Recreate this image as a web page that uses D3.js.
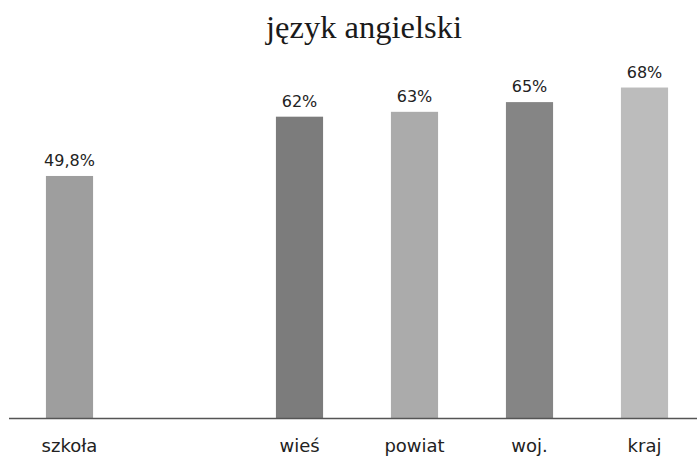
<!DOCTYPE html>
<meta charset="utf-8">
<style>
  body { margin: 0; background: #fff; }
  .value { font: 16px "DejaVu Sans", sans-serif; fill: #222; }
  .cat { font: 18px "DejaVu Sans", sans-serif; fill: #222; }
  .title { font: 32.5px "Liberation Serif", serif; fill: #1a1a1a; }
</style>
<body>
<svg id="chart" width="697" height="459"></svg>
<script src="https://d3js.org/d3.v7.min.js"></script>
<script>
  // one empty slot between szkoła and wieś
  const categories = ["szkoła", "", "wieś", "powiat", "woj.", "kraj"];
  const values = [49.8, null, 62, 63, 65, 68];
  const valueLabels = ["49,8%", "", "62%", "63%", "65%", "68%"];
  const barColors = ["#9e9e9e", "#fff", "#7c7c7c", "#ababab", "#858585", "#bcbcbc"];

  const svg = d3.select("#chart");
  const baseY = 418;

  const x = d3.scaleBand()
    .domain(categories)
    .range([12, 702])
    .paddingInner(0.59)
    .paddingOuter(0.295);

  const y = d3.scaleLinear()
    .domain([0, 100])
    .range([baseY, baseY - 486]);

  svg.append("text")
    .attr("class", "title")
    .attr("x", 364)
    .attr("y", 38)
    .attr("text-anchor", "middle")
    .text("język angielski");

  const data = categories.map((c, i) => ({ c, v: values[i], label: valueLabels[i], color: barColors[i] }))
    .filter(d => d.v != null);

  svg.selectAll("rect.bar")
    .data(data)
    .enter().append("rect")
    .attr("class", "bar")
    .attr("x", d => x(d.c))
    .attr("y", d => y(d.v))
    .attr("width", x.bandwidth())
    .attr("height", d => baseY - y(d.v))
    .attr("fill", d => d.color);

  svg.selectAll("text.value")
    .data(data)
    .enter().append("text")
    .attr("class", "value")
    .attr("x", d => x(d.c) + x.bandwidth() / 2)
    .attr("y", d => y(d.v) - 10)
    .attr("text-anchor", "middle")
    .text(d => d.label);

  // baseline
  svg.append("line")
    .attr("x1", 9).attr("x2", 697)
    .attr("y1", baseY + 0.5).attr("y2", baseY + 0.5)
    .attr("stroke", "#555")
    .attr("stroke-width", 1.5);

  svg.selectAll("text.cat")
    .data(data)
    .enter().append("text")
    .attr("class", "cat")
    .attr("x", d => x(d.c) + x.bandwidth() / 2)
    .attr("y", 452)
    .attr("text-anchor", "middle")
    .text(d => d.c);
</script>
</body>
